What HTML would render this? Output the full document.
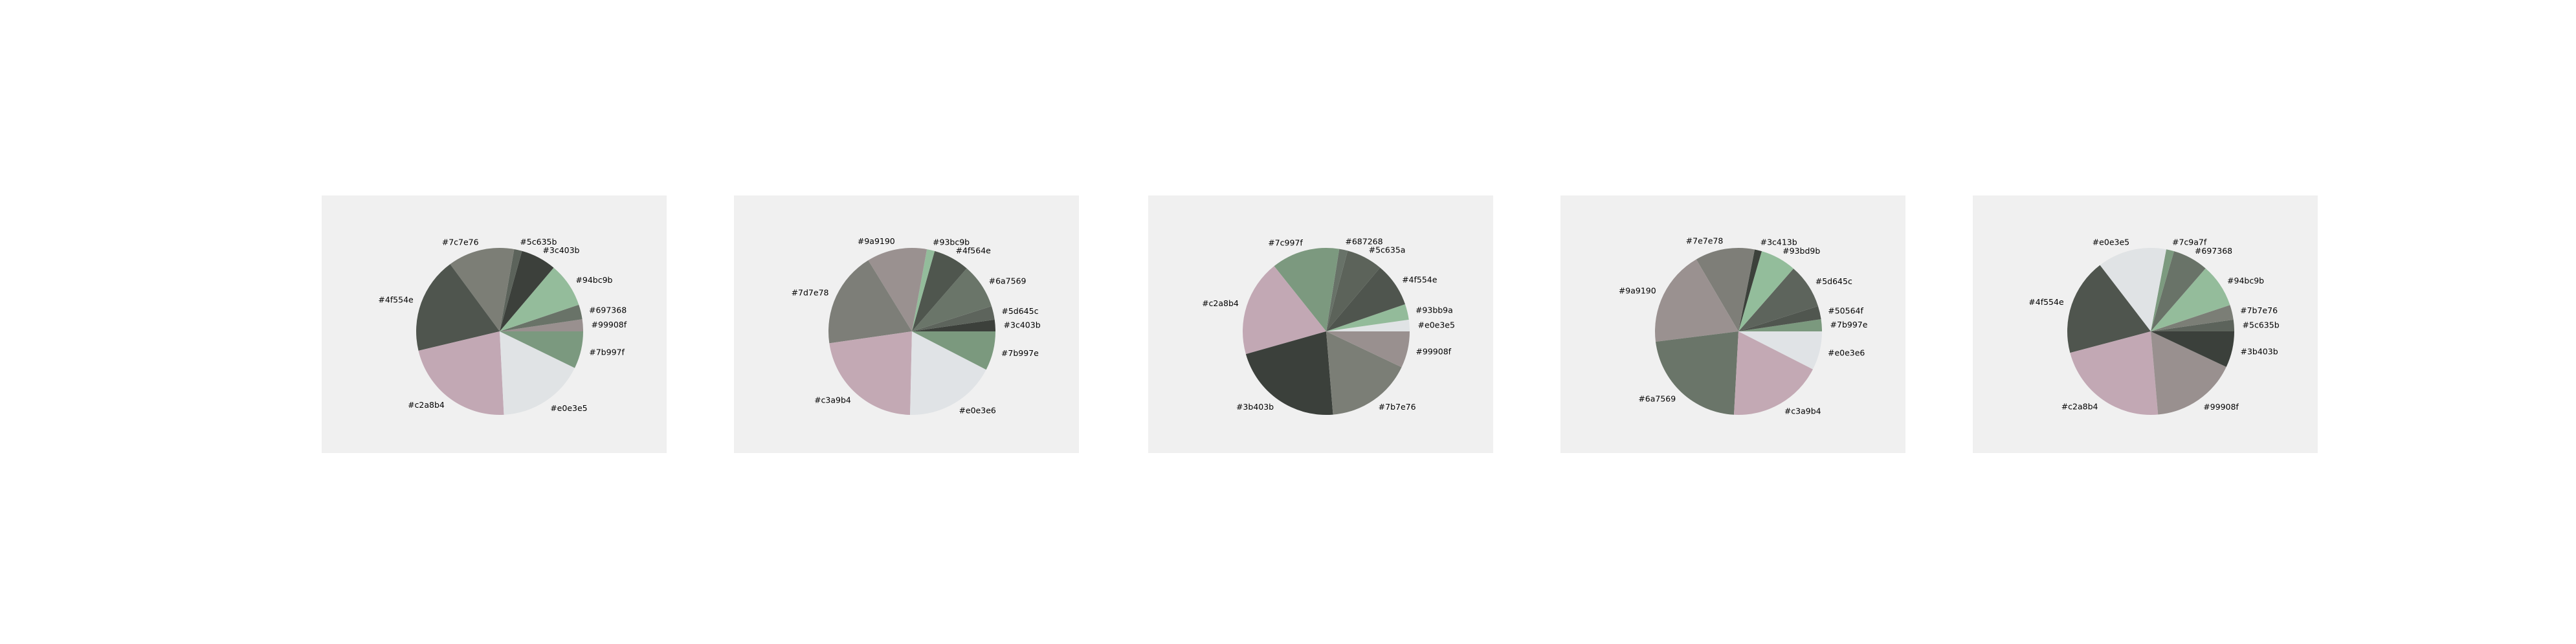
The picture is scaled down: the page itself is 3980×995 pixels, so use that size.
<!DOCTYPE html>
<html><head><meta charset="utf-8"><style>
html,body{margin:0;padding:0;background:#fff;}
svg{display:block;}
text{font-family:"DejaVu Sans","Liberation Sans",sans-serif;font-size:12.5px;fill:#000;}
</style></head><body>
<svg id="chart" width="3980" height="995" viewBox="0 0 3980 995" xmlns="http://www.w3.org/2000/svg"></svg>
<script>
const panelLeft = [497, 1134, 1774, 2411, 3048];
const colors1 = ["#99908f","#697368","#94bc9b","#3c403b","#5c635b","#7c7e76","#4f554e","#c2a8b4","#e0e3e5","#7b997f"];
const values1 = [8.4,10.2,31.1,24.8,5.5,46.4,67,79.5,61.1,26];
const colors2 = ["#3c403b","#5d645c","#6a7569","#4f564e","#93bc9b","#9a9190","#7d7e78","#c3a9b4","#e0e3e6","#7b997e"];
const values2 = [8.1,9.5,31.4,25.2,5.5,41.9,66.6,80.5,64,27.3];
const colors3 = ["#e0e3e5","#93bb9a","#4f554e","#5c635a","#687268","#7c997f","#c2a8b4","#3b403b","#7b7e76","#99908f"];
const values3 = [8.1,10.9,30.8,25.3,5.9,47.6,67.2,78.9,59.9,25.4];
const colors4 = ["#7b997e","#50564f","#5d645c","#93bd9b","#3c413b","#7e7e78","#9a9190","#6a7569","#c3a9b4","#e0e3e6"];
const values4 = [8.4,9.2,31.2,25,5,41.6,66.7,79.8,66.1,27];
const colors5 = ["#5c635b","#7b7e76","#94bc9b","#697368","#7c9a7f","#e0e3e5","#4f554e","#c2a8b4","#99908f","#3b403b"];
const values5 = [8.1,10.3,30.6,24.8,5.5,48.2,67.4,80.1,59.8,25.2];

const allColors = [colors1, colors2, colors3, colors4, colors5];
const allValues = [values1, values2, values3, values4, values5];
const NS = "http://www.w3.org/2000/svg";
const svg = document.getElementById("chart");
const PW = 533, PH = 398, PTOP = 302, R = 129, CXOFF = 275, CYOFF = 210;

for (let p = 0; p < 5; p++) {
  const g = document.createElementNS(NS, "g");
  
  
  svg.appendChild(g);
  const bg = document.createElementNS(NS, "rect");
  
  
  bg.setAttribute("x", panelLeft[p]); bg.setAttribute("y", PTOP);
  bg.setAttribute("width", PW); bg.setAttribute("height", PH);
  bg.setAttribute("fill", "#f0f0f0");
  g.appendChild(bg);
  const cx = panelLeft[p] + CXOFF, cy = PTOP + CYOFF;
  const vals = allValues[p], cols = allColors[p];
  const total = vals.reduce((a, b) => a + b, 0);
  let a0 = 0;
  for (let i = 0; i < vals.length; i++) {
    const sweep = vals[i] / total * 2 * Math.PI;
    const a1 = a0 + sweep;
    const x0 = cx + R * Math.cos(a0), y0 = cy - R * Math.sin(a0);
    const x1 = cx + R * Math.cos(a1), y1 = cy - R * Math.sin(a1);
    const large = sweep > Math.PI ? 1 : 0;
    const path = document.createElementNS(NS, "path");
    
    
    path.setAttribute("d", `M${cx},${cy} L${x0},${y0} A${R},${R} 0 ${large} 0 ${x1},${y1} Z`);
    path.setAttribute("fill", cols[i]);
    g.appendChild(path);
    const am = (a0 + a1) / 2;
    const lx = cx + 1.1 * R * Math.cos(am), ly = cy - 1.1 * R * Math.sin(am);
    const t = document.createElementNS(NS, "text");
    
    
    t.setAttribute("x", lx); t.setAttribute("y", ly);
    t.setAttribute("text-anchor", Math.cos(am) >= 0 ? "start" : "end");
    t.setAttribute("dominant-baseline", "central");
    t.textContent = cols[i];
    g.appendChild(t);
    a0 = a1;
  }
}
</script>
</body></html>
